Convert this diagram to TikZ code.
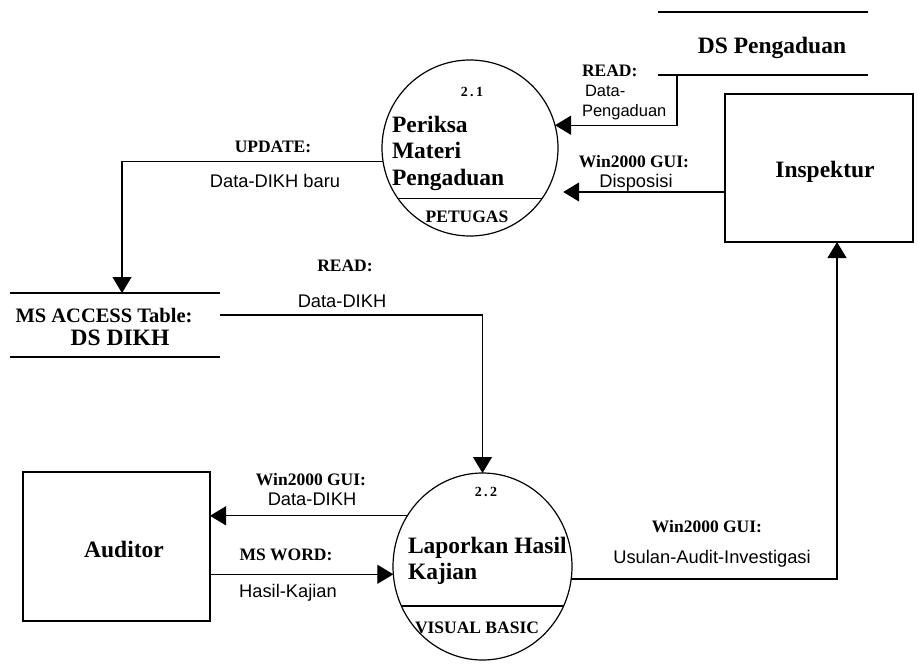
\documentclass[tikz,border=0pt]{standalone}
\usepackage{fontspec}
\setmainfont{Liberation Serif}
\newfontfamily\labelsans{Liberation Sans}
\usetikzlibrary{arrows.meta,shapes.geometric,calc}
\begin{document}
\begin{tikzpicture}[x=1pt,y=-1pt,
  line/.style={draw=black,line width=1.2pt},
  flow/.style={line,-{Triangle[length=16pt,width=19pt]}},
  shapebox/.style={draw=none,inner sep=0pt,outer sep=0pt},
  entity/.style={rectangle,draw=black,line width=1.3pt,inner sep=0pt,outer sep=0pt},
  proc/.style={draw=black,line width=1.2pt,inner sep=0pt,outer sep=0pt},
  txt/.style={inner sep=0pt,outer sep=0pt},
  bigname/.style={txt,font=\fontsize{23.5}{26}\selectfont\bfseries},
  procno/.style={txt,font=\fontsize{14}{16}\selectfont\bfseries},
  tool/.style={txt,font=\fontsize{17.5}{19}\selectfont\bfseries},
  flowhead/.style={txt,font=\fontsize{17.5}{19}\selectfont\bfseries},
  flowtext/.style={txt,font=\labelsans\fontsize{18.3}{20}\selectfont},
  smalltext/.style={txt,font=\labelsans\fontsize{16.5}{18}\selectfont},
]
\useasboundingbox (0,0) rectangle (918,664);

% ---------- shapes ----------
\node[proc,circle,minimum size=176pt] (c1) at (470,148) {};
\node[proc,ellipse,minimum width=179pt,minimum height=187pt] (c2) at (482.5,566.5) {};
\node[entity,minimum width=188pt,minimum height=148pt] (insp) at (819,168) {};
\node[entity,minimum width=187pt,minimum height=149pt] (aud) at (116.5,546.5) {};
\node[shapebox,rectangle,minimum width=210pt,minimum height=63pt] (dsp) at (763,43.5) {};
\node[shapebox,rectangle,minimum width=210pt,minimum height=64pt] (dikh) at (115,325) {};

% data store borders
\draw[line] (dsp.north west) -- (dsp.north east) (dsp.south west) -- (dsp.south east);
\draw[line] (dikh.north west) -- (dikh.north east) (dikh.south west) -- (dikh.south east);

% process separators
\draw[line] (c1.215.4) -- (c1.-35.4);
\draw[line] (c2.206.65) -- (c2.-26.65);

% ---------- texts in shapes ----------
\node[procno,anchor=base] (no1) at (472,96) {2\,.\,1};
\node[bigname,anchor=base west] (p1a) at (392,132) {Periksa};
\node[bigname,anchor=base west] (p1b) at (392,158) {Materi};
\node[bigname,anchor=base west] (p1c) at (392,185) {Pengaduan};
\node[tool,anchor=base] (t1) at (467,222) {PETUGAS};

\node[procno,anchor=base] (no2) at (486,496) {2\,.\,2};
\node[bigname,anchor=base west] (p2a) at (408,553) {Laporkan Hasil};
\node[bigname,anchor=base west] (p2b) at (408,579) {Kajian};
\node[tool,anchor=base] (t2) at (477,633) {VISUAL BASIC};

\node[bigname,anchor=base] (dspname) at (772,53) {DS Pengaduan};
\node[bigname,anchor=base] (inspname) at (825,177) {Inspektur};
\node[bigname,anchor=base] (audname) at (124,557) {Auditor};
\node[txt,font=\fontsize{20.5}{22}\selectfont\bfseries,anchor=base] (dikhtype) at (104,322) {MS ACCESS Table:};
\node[bigname,anchor=base] (dikhname) at (120,345) {DS DIKH};

% ---------- data flows ----------
% READ: Data-Pengaduan
\draw[flow] ([xshift=-86pt]dsp.south) |- (c1.15.2);
\node[flowhead,anchor=base west] (l1a) at (582,76) {READ:};
\node[smalltext,anchor=base west] (l1b) at (585,96) {Data-};
\node[smalltext,anchor=base west] (l1c) at (582,116) {Pengaduan};

% Win2000 GUI: Disposisi
\draw[flow] (insp.west |- c1.-30.75) -- ([xshift=17pt]c1.-30.75);
\node[flowhead,anchor=base] (l2a) at (634,167) {Win2000 GUI:};
\node[flowtext,anchor=base] (l2b) at (636,187) {Disposisi};

% UPDATE: Data-DIKH baru
\draw[flow] (c1.189.15) -| ([xshift=7pt]dikh.north);
\node[flowhead,anchor=base] (l3a) at (273,152) {UPDATE:};
\node[flowtext,anchor=base] (l3b) at (275,187) {Data-DIKH baru};

% READ: Data-DIKH
\draw[flow] ([yshift=10pt]dikh.east) -| (c2.north);
\node[flowhead,anchor=base] (l4a) at (345,271) {READ:};
\node[flowtext,anchor=base] (l4b) at (342,307) {Data-DIKH};

% Win2000 GUI: Data-DIKH
\draw[flow] (c2.146.9) -- (aud.east |- c2.146.9);
\node[flowhead,anchor=base] (l5a) at (311,485) {Win2000 GUI:};
\node[flowtext,anchor=base] (l5b) at (312,505) {Data-DIKH};

% MS WORD: Hasil-Kajian
\draw[flow] (aud.east |- c2.185.45) -- (c2.185.45);
\node[flowhead,anchor=base] (l6a) at (286,560) {MS WORD:};
\node[flowtext,anchor=base] (l6b) at (288,597) {Hasil-Kajian};

% Win2000 GUI: Usulan-Audit-Investigasi
\draw[flow] (c2.-8) -| ([xshift=18pt]insp.south);
\node[flowhead,anchor=base] (l7a) at (707,532) {Win2000 GUI:};
\node[flowtext,anchor=base] (l7b) at (712,563) {Usulan-Audit-Investigasi};
\end{tikzpicture}
\end{document}
